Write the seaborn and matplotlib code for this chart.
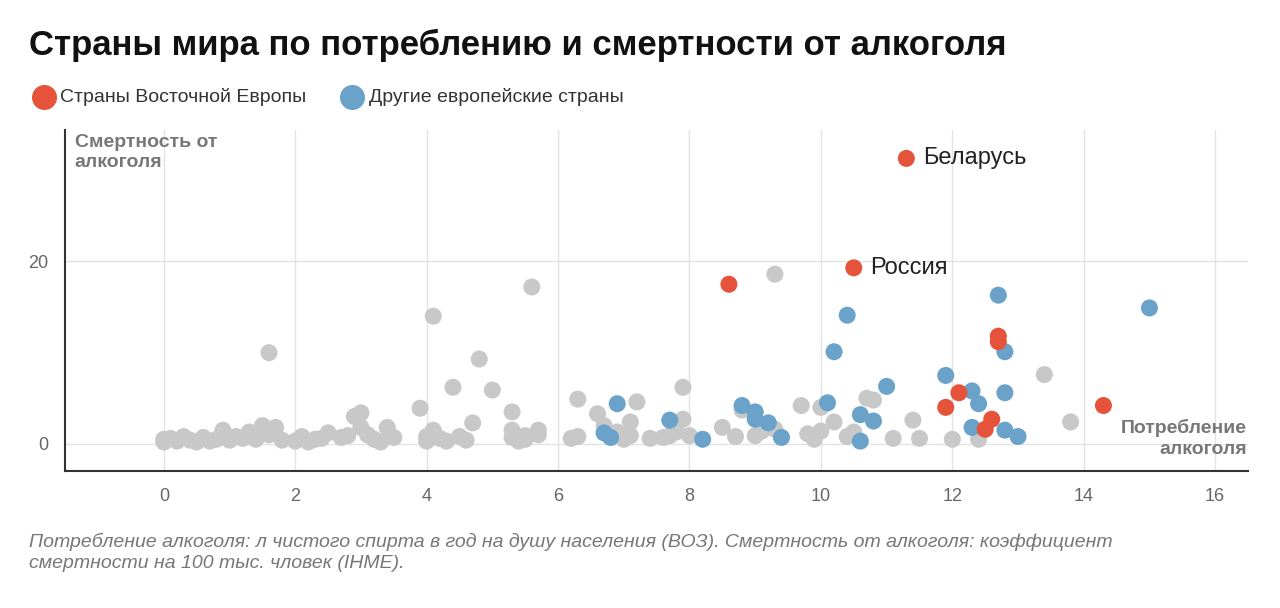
import matplotlib
matplotlib.use("Agg")
import matplotlib.pyplot as plt
from matplotlib.lines import Line2D
import seaborn as sns
import pandas as pd

red_x = [8.6, 10.5, 11.3, 11.9, 12.1, 12.7, 12.7, 12.6, 12.5, 14.3]
red_y = [17.5, 19.3, 31.3, 4.0, 5.6, 11.8, 11.2, 2.7, 1.6, 4.2]
blue_x = [15.0, 12.7, 10.4, 10.2, 12.8, 11.0, 11.9, 12.3, 12.4, 12.8, 12.3, 12.8, 13.0, 10.1, 10.6, 10.8, 10.6,
          8.8, 9.0, 9.0, 9.2, 9.4, 8.2, 7.7, 6.9, 6.7, 6.8]
blue_y = [14.9, 16.3, 14.1, 10.1, 10.1, 6.3, 7.5, 5.8, 4.4, 5.6, 1.8, 1.5, 0.8, 4.5, 3.2, 2.5, 0.3,
          4.2, 3.5, 2.7, 2.3, 0.7, 0.5, 2.6, 4.4, 1.2, 0.7]
gray_x = [0, 0, 0.1, 0.2, 0.3, 0.4, 0.5, 0.6, 0.7, 0.8, 0.9, 1.0, 1.1, 1.2, 1.3, 1.4, 1.5, 1.6, 1.7, 1.8, 1.6,
          2.0, 2.1, 2.2, 2.3, 2.4, 2.5, 2.7, 2.8, 2.9, 3.0, 3.0, 3.1, 3.2, 3.4, 3.5, 3.3,
          3.9, 4.0, 4.0, 4.1, 4.1, 4.2, 4.3, 4.4, 4.5, 4.6, 4.7, 4.8, 5.0, 5.3, 5.3, 5.3, 5.4, 5.5, 5.6, 5.7, 5.7, 5.5,
          6.2, 6.3, 6.3, 6.6, 6.7, 6.9, 7.0, 7.1, 7.1, 7.2, 7.4, 7.6, 7.7, 7.9, 7.9, 8.0, 7.8,
          8.5, 8.7, 8.8, 9.0, 9.1, 9.3, 9.3, 9.7, 9.8, 9.9, 10.0, 10.2, 10.0, 10.4, 10.5, 10.7, 10.8,
          11.1, 11.4, 11.5, 12.0, 12.4, 13.4, 13.8]
gray_y = [0.5, 0.2, 0.6, 0.3, 0.8, 0.4, 0.2, 0.7, 0.3, 0.5, 1.5, 0.4, 0.8, 0.6, 1.3, 0.5, 2.0, 1.0, 1.8, 0.4, 10.0,
          0.3, 0.8, 0.2, 0.5, 0.6, 1.2, 0.7, 0.9, 3.0, 3.4, 1.8, 1.0, 0.5, 1.8, 0.7, 0.2,
          3.9, 0.8, 0.3, 1.5, 14.0, 0.6, 0.3, 6.2, 0.8, 0.4, 2.3, 9.3, 5.9, 3.5, 1.5, 0.7, 0.3, 0.9, 17.2, 1.5, 1.0, 0.5,
          0.6, 0.8, 4.9, 3.3, 2.0, 1.3, 0.5, 2.4, 0.9, 4.6, 0.6, 0.7, 0.9, 6.2, 2.7, 0.9, 1.3,
          1.8, 0.8, 3.7, 0.9, 1.4, 18.6, 1.6, 4.2, 1.1, 0.5, 1.4, 2.4, 4.0, 0.8, 1.3, 5.0, 4.8,
          0.6, 2.6, 0.6, 0.5, 0.5, 7.6, 2.4]

RED, BLUE, GRAY = "#e5533a", "#6aa2c9", "#c8c8c8"

df = pd.concat([
    pd.DataFrame({"x": gray_x, "y": gray_y, "g": "other"}),
    pd.DataFrame({"x": blue_x, "y": blue_y, "g": "blue"}),
    pd.DataFrame({"x": red_x, "y": red_y, "g": "red"}),
])

sns.set_theme(style="white")
plt.rcParams["font.family"] = ["Liberation Sans", "DejaVu Sans"]
fig = plt.figure(figsize=(12.8, 6.08), dpi=100)
ax = fig.add_axes([0.051, 0.225, 0.924, 0.561])
sns.scatterplot(data=df, x="x", y="y", hue="g", palette={"other": GRAY, "blue": BLUE, "red": RED},
                s=150, edgecolor="none", legend=False, ax=ax, zorder=3)
ax.set_xlim(-1.5, 16.5)
ax.set_ylim(-3, 34.4)
ax.set_xticks(range(0, 17, 2))
ax.set_yticks([0, 20])
ax.grid(True, color="#e3e3e3", lw=1)
ax.set_axisbelow(True)
for s in ["top", "right"]:
    ax.spines[s].set_visible(False)
for s in ["left", "bottom"]:
    ax.spines[s].set_color("#333333")
    ax.spines[s].set_linewidth(1.5)
ax.tick_params(colors="#666666", labelsize=13, length=0, pad=12)
ax.set_xlabel("")
ax.set_ylabel("")
ax.text(0.008, 0.99, "Смертность от\nалкоголя", transform=ax.transAxes, va="top", ha="left",
        fontsize=14, fontweight="bold", color="#777777", linespacing=1.3)
ax.text(0.999, 0.04, "Потребление\nалкоголя", transform=ax.transAxes, va="bottom", ha="right",
        fontsize=14, fontweight="bold", color="#777777", linespacing=1.3)
ax.annotate("Беларусь", (11.3, 31.3), xytext=(12, 0), textcoords="offset points", va="center",
            fontsize=17, color="#222222")
ax.annotate("Россия", (10.5, 19.3), xytext=(12, 0), textcoords="offset points", va="center",
            fontsize=17, color="#222222")

fig.text(0.023, 0.926, "Страны мира по потреблению и смертности от алкоголя", fontsize=25,
         fontweight="bold", color="#111111", va="center")
fig.add_artist(Line2D([0.034], [0.84], marker="o", markersize=17, color=RED, lw=0, transform=fig.transFigure))
fig.text(0.047, 0.84, "Страны Восточной Европы", fontsize=14, color="#333333", va="center")
fig.add_artist(Line2D([0.275], [0.84], marker="o", markersize=17, color=BLUE, lw=0, transform=fig.transFigure))
fig.text(0.288, 0.84, "Другие европейские страны", fontsize=14, color="#333333", va="center")
fig.text(0.023, 0.06, "Потребление алкоголя: л чистого спирта в год на душу населения (ВОЗ). Смертность от алкоголя: коэффициент\nсмертности на 100 тыс. чловек (IHME).",
         fontsize=14, style="italic", color="#777777", va="bottom", linespacing=1.3)
fig.savefig("out.png", dpi=100)
